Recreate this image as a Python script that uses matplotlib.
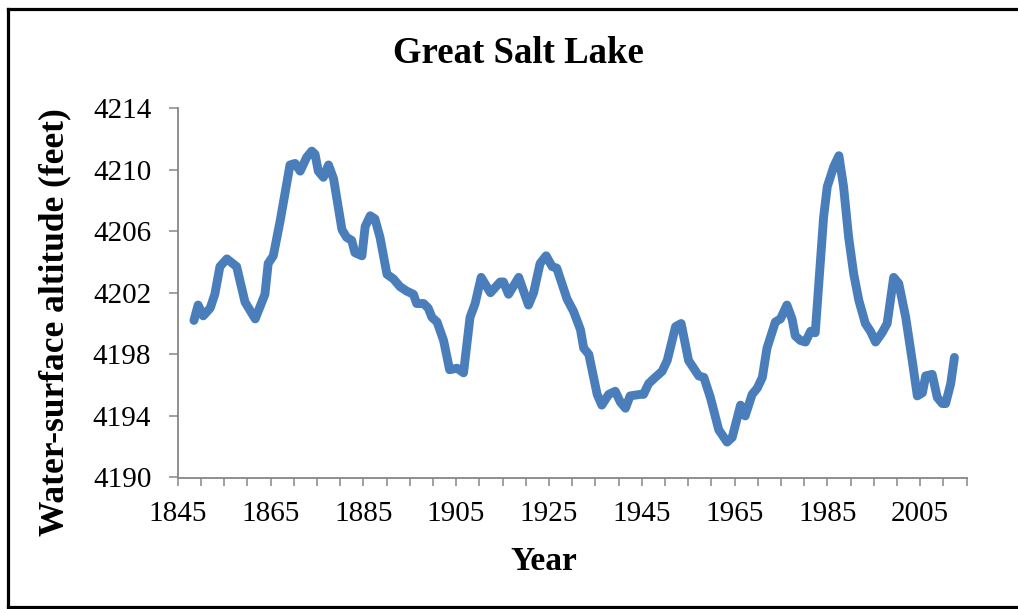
import matplotlib
matplotlib.use("Agg")
import matplotlib.pyplot as plt
from matplotlib.lines import Line2D
from matplotlib.ticker import MultipleLocator

# Great Salt Lake water-surface altitude
years = [1848.5, 1849.4, 1850.5, 1852.0, 1853.0, 1854.1, 1855.6, 1857.7, 1859.5, 1861.7,
         1863.8, 1864.5, 1865.6, 1867.1, 1869.2, 1870.3, 1871.4, 1872.8, 1873.9, 1874.6,
         1875.3, 1876.4, 1877.5, 1878.6, 1880.4, 1881.4, 1882.5, 1883.2, 1884.7, 1885.4,
         1886.5, 1887.5, 1888.6, 1890.1, 1891.5, 1892.9, 1894.4, 1895.8, 1896.5, 1898.0,
         1899.0, 1899.8, 1900.9, 1902.3, 1903.6, 1905.2, 1906.6, 1908.0, 1909.1, 1910.4,
         1912.4, 1914.5, 1915.2, 1916.3, 1918.5, 1920.6, 1921.7, 1923.1, 1924.4, 1925.7,
         1926.7, 1928.9, 1930.3, 1931.8, 1932.5, 1933.6, 1935.4, 1936.4, 1937.9, 1939.3,
         1940.4, 1941.5, 1942.5, 1944.7, 1945.4, 1946.5, 1947.9, 1949.4, 1950.5, 1952.3,
         1953.5, 1955.1, 1956.2, 1957.3, 1958.4, 1959.8, 1960.9, 1961.6, 1963.4, 1964.5,
         1966.3, 1967.3, 1968.8, 1969.9, 1971.0, 1972.0, 1973.8, 1974.9, 1976.3, 1977.4,
         1978.1, 1979.2, 1980.3, 1981.4, 1982.4, 1984.2, 1985.0, 1986.4, 1987.5, 1988.5,
         1989.6, 1990.7, 1991.8, 1993.2, 1994.3, 1995.4, 1996.8, 1997.9, 1999.3, 2000.4,
         2001.9, 2003.3, 2004.4, 2005.5, 2006.2, 2007.6, 2008.7, 2009.8, 2010.5, 2011.6,
         2012.4]
altitude = [4200.2, 4201.2, 4200.5, 4201.0, 4201.9, 4203.7, 4204.2, 4203.7, 4201.4, 4200.3,
            4201.9, 4203.9, 4204.4, 4206.7, 4210.3, 4210.4, 4209.9, 4210.8, 4211.2, 4211.0,
            4209.9, 4209.5, 4210.3, 4209.4, 4206.1, 4205.6, 4205.4, 4204.6, 4204.4, 4206.3,
            4207.0, 4206.8, 4205.6, 4203.2, 4202.9, 4202.4, 4202.1, 4201.9, 4201.3, 4201.3,
            4201.0, 4200.4, 4200.1, 4198.9, 4197.0, 4197.1, 4196.8, 4200.4, 4201.3, 4203.0,
            4202.0, 4202.7, 4202.7, 4201.9, 4203.0, 4201.2, 4202.0, 4203.9, 4204.4, 4203.7,
            4203.6, 4201.6, 4200.8, 4199.6, 4198.4, 4198.0, 4195.4, 4194.7, 4195.4, 4195.6,
            4194.9, 4194.5, 4195.3, 4195.4, 4195.4, 4196.1, 4196.5, 4196.9, 4197.6, 4199.8,
            4200.0, 4197.6, 4197.1, 4196.6, 4196.5, 4195.2, 4193.9, 4193.1, 4192.3, 4192.6,
            4194.7, 4194.0, 4195.4, 4195.8, 4196.5, 4198.4, 4200.1, 4200.3, 4201.2, 4200.3,
            4199.2, 4198.9, 4198.8, 4199.5, 4199.4, 4206.9, 4208.9, 4210.2, 4210.9, 4208.9,
            4205.6, 4203.2, 4201.5, 4200.0, 4199.5, 4198.8, 4199.4, 4200.0, 4203.0, 4202.6,
            4200.4, 4197.6, 4195.3, 4195.5, 4196.6, 4196.7, 4195.2, 4194.8, 4194.8, 4196.1,
            4197.8]

year_labels = [1845, 1865, 1885, 1905, 1925, 1945, 1965, 1985, 2005]
alt_ticks = [4190, 4194, 4198, 4202, 4206, 4210, 4214]

plt.rcParams["font.family"] = ["Liberation Serif", "DejaVu Serif"]
gray = "#868686"
W, H = 1018, 609

fig = plt.figure(figsize=(W / 100, H / 100), dpi=100)
ax = fig.add_axes([177.7 / W, 1 - 477.5 / H, (966.5 - 177.7) / W, (477.5 - 108) / H])

ax.plot(years, altitude, color="#4A7EBB", linewidth=6.4, solid_joinstyle="round",
        solid_capstyle="round")

ax.set_xlim(1845, 2015)
ax.set_ylim(4190, 4214)
ax.set_xticks(year_labels)
ax.xaxis.set_minor_locator(MultipleLocator(5))
ax.set_yticks(alt_ticks)

for s in ["top", "right"]:
    ax.spines[s].set_visible(False)
for s in ["left", "bottom"]:
    ax.spines[s].set_color(gray)
    ax.spines[s].set_linewidth(1.3)

ax.tick_params(axis="both", which="both", direction="out", color=gray, width=1.1,
               labelsize=21)
ax.tick_params(axis="x", which="both", length=6, pad=11)
ax.tick_params(axis="y", length=6.5, pad=12.5)

fig.text(518 / W, 1 - 63.3 / H, "Great Salt Lake", fontsize=26.5, fontweight="bold",
         ha="center", va="baseline")
fig.text(544 / W, 1 - 570 / H, "Year", fontsize=24, fontweight="bold",
         ha="center", va="baseline")
fig.text(55 / W, 1 - 322 / H, "Water-surface altitude (feet)", fontsize=25.5,
         fontweight="bold", rotation=90, ha="center", va="center")

# outer frame: left, top and bottom edges only (right edge is cropped off)
frame = dict(color="black", linewidth=2.3, transform=fig.transFigure)
fig.lines.append(Line2D([7.5 / W, 7.5 / W], [1 - 9 / H, 1 - 607 / H], **frame))
fig.lines.append(Line2D([7.5 / W, 1.0], [1 - 9 / H, 1 - 9 / H], **frame))
fig.lines.append(Line2D([7.5 / W, 1.0], [1 - 607 / H, 1 - 607 / H], **frame))

fig.savefig("out.png", dpi=100)
